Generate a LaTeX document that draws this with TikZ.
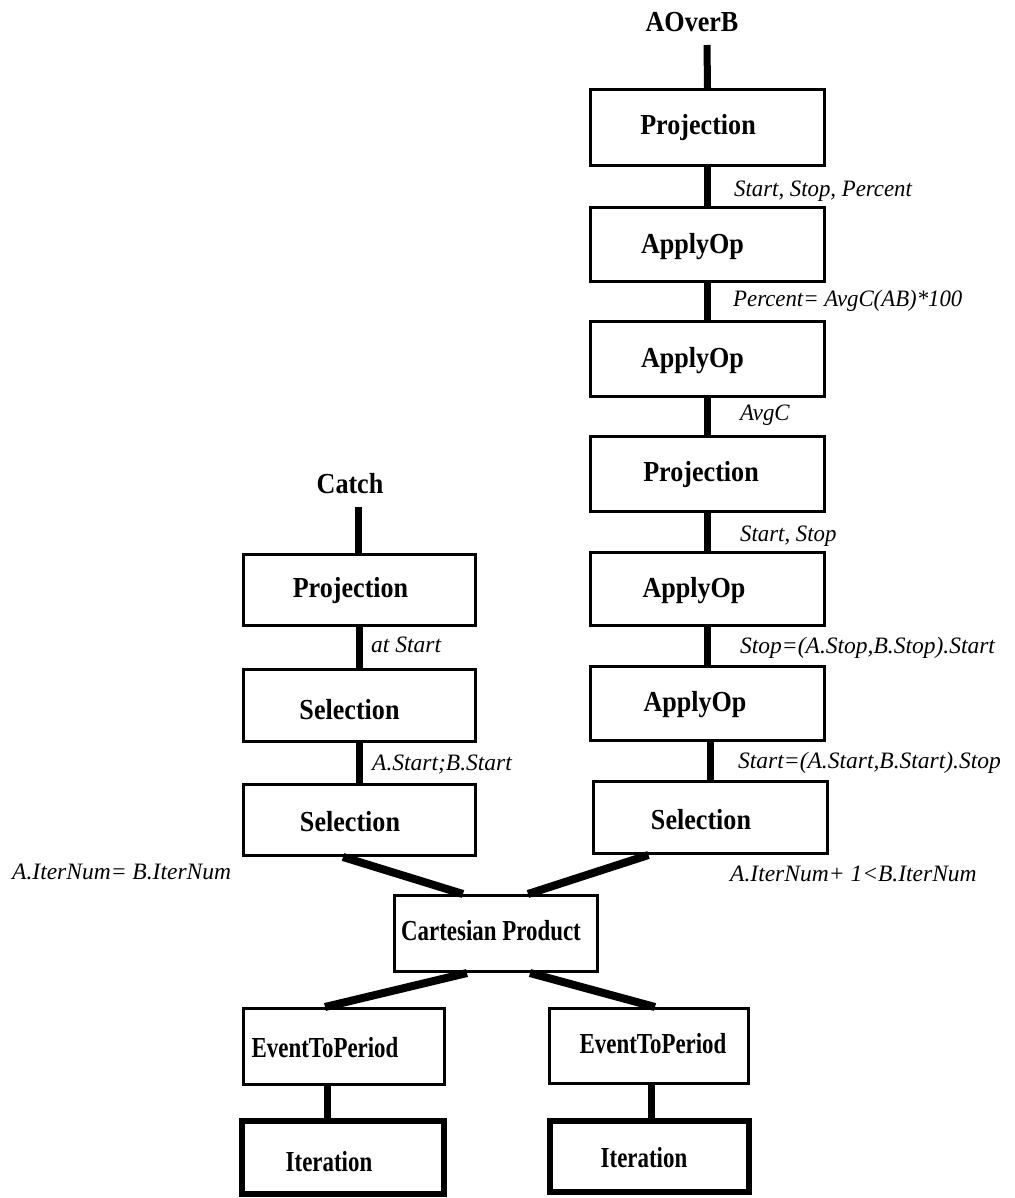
\documentclass[tikz,border=0pt]{standalone}
\usepackage{fontspec}
\usepackage{graphicx}
\setmainfont{Liberation Serif}
\usetikzlibrary{calc}

\tikzset{
  thinbox/.style={draw, line width=3pt, inner sep=0pt},
  thickbox/.style={draw, line width=6pt, inner sep=0pt},
  boxtext/.style={font=\bfseries\fontsize{29}{34}\selectfont, inner sep=0pt,
                  text height=19pt, text depth=0pt},
  lbl/.style={font=\itshape\fontsize{23.5}{28}\selectfont, anchor=west,
              inner sep=0pt, text height=15.5pt, text depth=0pt},
  conn/.style={line width=7pt},
  diag/.style={line width=8pt},
}

% condensed bold lettering used inside the operator boxes
\newcommand{\wideop}[1]{\scalebox{0.9}[1]{#1}}
\newcommand{\narrowop}[1]{\scalebox{0.79}[1]{#1}}
% slightly compressed italic for connector annotations
\newcommand{\annot}[1]{\scalebox{0.97}[1]{#1}}

\begin{document}
\begin{tikzpicture}[x=1pt,y=-1pt]
\fill[white] (0,0) rectangle (1014,1198);
\useasboundingbox (0,0) rectangle (1014,1198);

% ---- right chain (AOverB) ----
\node[thinbox, minimum width=234pt, minimum height=76pt] (p1) at (707.5,127.5) {};
\node[boxtext] at (698,125.5) {\wideop{Projection}};
\node[thinbox, minimum width=234pt, minimum height=74pt] (a1) at (707.5,244.5) {};
\node[boxtext] at (692.5,243.5) {\wideop{ApplyOp}};
\node[thinbox, minimum width=234pt, minimum height=75pt] (a2) at (707.5,359) {};
\node[boxtext] at (692.5,357.5) {\wideop{ApplyOp}};
\node[thinbox, minimum width=234pt, minimum height=75pt] (p2) at (707.5,474) {};
\node[boxtext] at (701,471.5) {\wideop{Projection}};
\node[thinbox, minimum width=234pt, minimum height=73pt] (a3) at (707.5,589) {};
\node[boxtext] at (694,588) {\wideop{ApplyOp}};
\node[thinbox, minimum width=234pt, minimum height=74pt] (a4) at (707.5,703.5) {};
\node[boxtext] at (695,702) {\wideop{ApplyOp}};
\node[thinbox, minimum width=234pt, minimum height=72pt] (sr) at (710.5,817.5) {};
\node[boxtext] at (701,819.5) {\wideop{Selection}};

% ---- left chain (Catch) ----
\node[thinbox, minimum width=232pt, minimum height=71pt] (pl) at (359.5,590) {};
\node[boxtext] at (350.5,588) {\wideop{Projection}};
\node[thinbox, minimum width=232pt, minimum height=72pt] (sl1) at (359.5,705.5) {};
\node[boxtext] at (349.5,709.5) {\wideop{Selection}};
\node[thinbox, minimum width=232pt, minimum height=71pt] (sl2) at (359.5,820) {};
\node[boxtext] at (350,821.5) {\wideop{Selection}};

% ---- shared lower part ----
\node[thinbox, minimum width=203pt, minimum height=76pt] (cp) at (496,933.5) {};
\node[boxtext] at (491,931) {\narrowop{Cartesian Product}};
\node[thinbox, minimum width=201pt, minimum height=76pt] (e1) at (344,1046.5) {};
\node[boxtext] at (325,1047.5) {\narrowop{EventToPeriod}};
\node[thinbox, minimum width=199pt, minimum height=75pt] (e2) at (649,1046) {};
\node[boxtext] at (653,1044) {\narrowop{EventToPeriod}};
\node[thickbox, minimum width=202pt, minimum height=73pt] (i1) at (343,1157.5) {};
\node[boxtext] at (329,1161.5) {\narrowop{Iteration}};
\node[thickbox, minimum width=199pt, minimum height=71pt] (i2) at (649.5,1156.5) {};
\node[boxtext] at (644,1157.5) {\narrowop{Iteration}};

% ---- result names ----
\node[boxtext] (aob) at (692,22.5) {\wideop{AOverB}};
\node[boxtext] (catch) at (350,483.5) {\wideop{Catch}};
\coordinate (aobtop) at (707,45);
\coordinate (catchtop) at (358,507);

% ---- connectors ----
\draw[conn] (aobtop) -- (p1.north);
\draw[conn] (p1.south) -- (a1.north);
\draw[conn] (a1.south) -- (a2.north);
\draw[conn] (a2.south) -- (p2.north);
\draw[conn] (p2.south) -- (a3.north);
\draw[conn] (a3.south) -- (a4.north);
\draw[conn] (sr.north |- a4.south) -- (sr.north);

\draw[conn] (catchtop) -- (catchtop |- pl.north);
\draw[conn] (pl.south) -- (sl1.north);
\draw[conn] (sl1.south) -- (sl2.north);

\draw[diag] ($(sl2.south)+(-16.5,0)$) -- ($(cp.north)+(-33,0)$);
\draw[diag] ($(sr.south)+(-62,0)$) -- ($(cp.north)+(32,0)$);
\draw[diag] ($(cp.south)+(-29,0)$) -- ($(e1.north)+(-19,0)$);
\draw[diag] ($(cp.south)+(34,0)$) -- ($(e2.north)+(6,0)$);

\draw[conn] ($(e1.south)+(-17,0)$) -- ($(i1.north)+(-16,0)$);
\draw[conn] ($(e2.south)+(2,0)$) -- ($(i2.north)+(1.5,0)$);

% ---- connector labels ----
\node[lbl] (l1) at (734,189) {\annot{Start, Stop, Percent}};
\node[lbl] (l2) at (733,299) {\annot{Percent= AvgC(AB)*100}};
\node[lbl] (l3) at (740,413) {\annot{AvgC}};
\node[lbl] (l4) at (740,534) {\annot{Start, Stop}};
\node[lbl] (l5) at (740,646) {Stop=(A.Stop,B.Stop).Start};
\node[lbl] (l6) at (738,760.5) {Start=(A.Start,B.Start).Stop};
\node[lbl] (l7) at (371,645) {at Start};
\node[lbl] (l8) at (372,763) {A.Start;B.Start};
\node[lbl] (l9) at (12,872) {A.IterNum= B.IterNum};
\node[lbl] (l10) at (730,874) {A.IterNum+ 1<B.IterNum};
\end{tikzpicture}
\end{document}
